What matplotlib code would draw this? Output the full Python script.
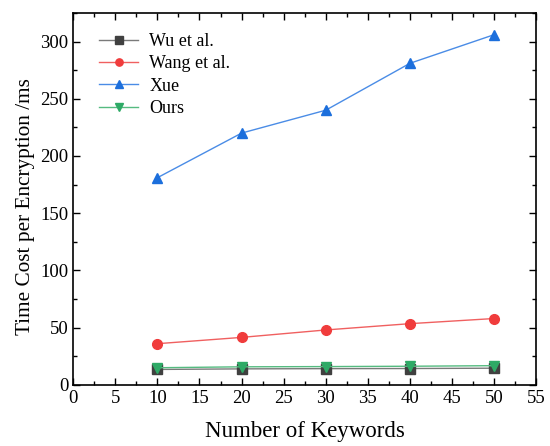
import matplotlib
matplotlib.use("Agg")
import matplotlib.pyplot as plt
from matplotlib.ticker import MultipleLocator

plt.rcParams['font.family'] = ['Liberation Serif', 'DejaVu Serif']
plt.rcParams['mathtext.fontset'] = 'stix'

keywords = [10, 20, 30, 40, 50]
wu = [13.5, 14.0, 14.2, 14.3, 14.6]
wang = [36, 41.5, 48, 53.5, 58]
xue = [181, 220, 240, 281, 306]
ours = [15.0, 15.8, 16.0, 16.3, 16.8]

series = [
    ("Wu et al.", wu, 's', '#404040', '#7a7a7a'),
    ("Wang et al.", wang, 'o', '#f03c3c', '#f06060'),
    ("Xue", xue, '^', '#1c6fdc', '#4a8ce6'),
    ("Ours", ours, 'v', '#2eaa66', '#55bb80'),
]

fig = plt.figure(figsize=(5.5, 4.46), dpi=100)
ax = fig.add_axes([0.133, 0.137, 0.842, 0.834])

for label, vals, m, mc, lc in series:
    ax.plot(keywords, vals, color=lc, lw=1.0, marker=m, markersize=7,
            markerfacecolor=mc, markeredgecolor=mc, label=label)

ax.set_xlim(0, 55)
ax.set_ylim(0, 325)
ax.xaxis.set_major_locator(MultipleLocator(5))
ax.xaxis.set_minor_locator(MultipleLocator(2.5))
ax.yaxis.set_major_locator(MultipleLocator(50))
ax.yaxis.set_minor_locator(MultipleLocator(25))
ax.tick_params(which='both', direction='in', top=True, right=True, labelsize=13.5, width=1.0)
ax.tick_params(which='major', length=5)
ax.tick_params(which='minor', length=3)
for s in ax.spines.values():
    s.set_linewidth(1.2)

ax.set_xlabel("Number of Keywords", fontsize=16.5, labelpad=10)
ax.set_ylabel("Time Cost per Encryption /ms", fontsize=15.3)
ax.yaxis.set_label_coords(-0.083, 0.48)

leg = ax.legend(loc='upper left', bbox_to_anchor=(0.02, 0.99), frameon=False,
                fontsize=13, handlelength=2.2, labelspacing=0.3, handletextpad=0.6,
                markerscale=0.75)

fig.savefig("out.png", dpi=100)
